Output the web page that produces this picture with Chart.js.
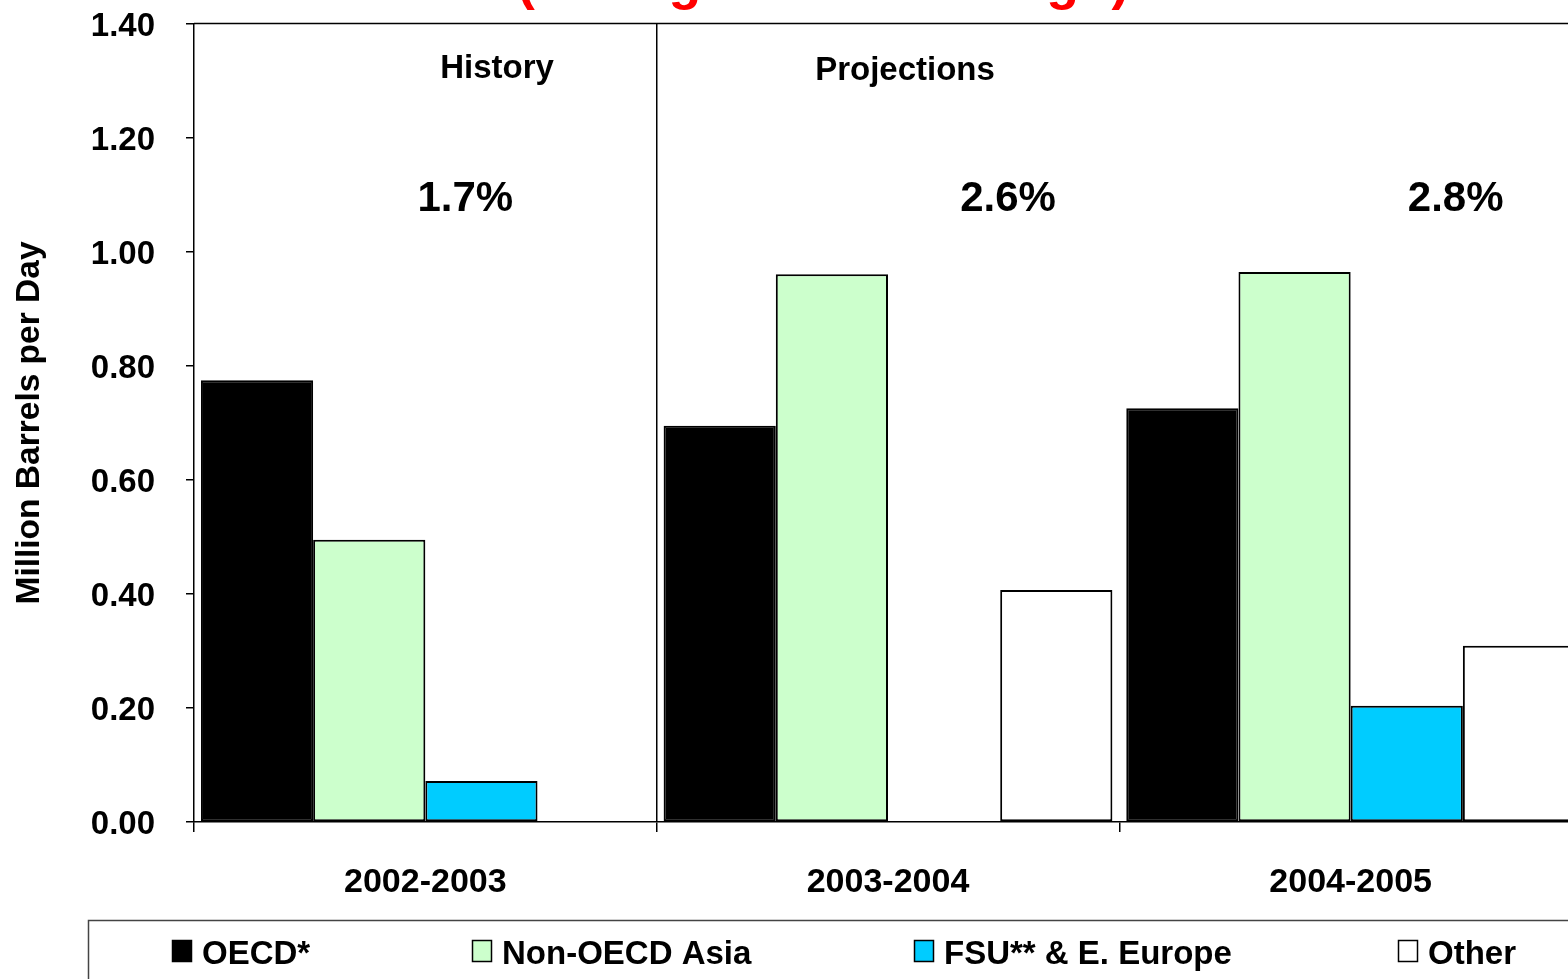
<!DOCTYPE html>
<html>
<head>
<meta charset="utf-8">
<script src="https://cdn.jsdelivr.net/npm/chart.js@4.4.0/dist/chart.umd.min.js"></script>
<style>
  html, body { margin: 0; padding: 0; overflow: hidden; background: #fff; }
  #wrap { width: 1600px; height: 979px; }
</style>
</head>
<body>
<div id="wrap"><canvas id="c" width="1600" height="979"></canvas></div>
<script>
// World oil demand growth by region, million barrels per day
const periods = ['2002-2003', '2003-2004', '2004-2005'];
const oecd = [0.775, 0.695, 0.726];
const nonOecdAsia = [0.495, 0.961, 0.965];
const fsuEurope = [0.072, null, 0.204];
const other = [null, 0.407, 0.309];
const growthRates = ['1.7%', '2.6%', '2.8%'];
const seriesNames = ['OECD*', 'Non-OECD Asia', 'FSU** & E. Europe', 'Other'];
const seriesColors = ['#000000', '#CCFFCC', '#00CCFF', '#FFFFFF'];
const sectionLabels = ['History', 'Projections'];
const titleText = '(Change from Year Ago)';
const yAxisTitle = 'Million Barrels per Day';

const FONT = '"Liberation Sans", Arial, Helvetica, sans-serif';
const bold = (px) => 'bold ' + px + 'px ' + FONT;

const decorations = {
  id: 'decorations',
  afterDraw(chart) {
    const { ctx, chartArea: a, scales } = chart;
    const x = scales.x, y = scales.y;
    ctx.save();

    // plot frame: top and right edges
    ctx.strokeStyle = '#000';
    ctx.lineWidth = 1.5;
    ctx.beginPath();
    ctx.moveTo(a.left, a.top - 0.5);
    ctx.lineTo(a.right, a.top - 0.5);
    ctx.lineTo(a.right, a.bottom);
    ctx.stroke();

    // red subtitle sitting above the frame
    ctx.fillStyle = '#FF0000';
    ctx.font = bold(53.5);
    ctx.textAlign = 'left';
    ctx.textBaseline = 'alphabetic';
    ctx.fillText(titleText, 517, -1);

    // section labels
    ctx.fillStyle = '#000';
    ctx.font = bold(33);
    ctx.textAlign = 'center';
    ctx.textBaseline = 'middle';
    ctx.fillText(sectionLabels[0], 497, 69);
    ctx.fillText(sectionLabels[1], 905, 71);

    // total growth rates per period
    ctx.font = bold(42);
    const shift = [40, 120, 105];
    growthRates.forEach((t, i) => {
      ctx.fillText(t, x.getPixelForValue(i) + shift[i], y.getPixelForValue(1.1) + 4);
    });

    // legend box
    const boxTop = 920.5, boxLeft = 88.5;
    ctx.strokeStyle = '#444';
    ctx.lineWidth = 1.5;
    ctx.beginPath();
    ctx.moveTo(chart.width + 5, boxTop);
    ctx.lineTo(boxLeft, boxTop);
    ctx.lineTo(boxLeft, chart.height + 5);
    ctx.stroke();

    const itemX = [172, 472, 914, 1398];
    ctx.font = bold(33);
    ctx.textAlign = 'left';
    ctx.textBaseline = 'alphabetic';
    chart.data.datasets.forEach((ds, i) => {
      ctx.fillStyle = ds.backgroundColor;
      ctx.fillRect(itemX[i], 940, 20, 22);
      ctx.strokeStyle = '#000';
      ctx.lineWidth = 1.5;
      ctx.strokeRect(itemX[i] + 0.5, 940.5, 19, 21);
      ctx.fillStyle = '#000';
      ctx.fillText(ds.label, itemX[i] + 30, 964);
    });

    ctx.restore();
  }
};

const seriesValues = [oecd, nonOecdAsia, fsuEurope, other];

new Chart(document.getElementById('c'), {
  type: 'bar',
  data: {
    labels: periods,
    datasets: seriesValues.map((vals, i) => ({
      label: seriesNames[i],
      data: vals,
      backgroundColor: seriesColors[i],
      borderColor: '#000',
      borderWidth: 2,
      borderSkipped: false,
      categoryPercentage: 0.97,
      barPercentage: 1.0
    }))
  },
  options: {
    responsive: false,
    animation: false,
    devicePixelRatio: 1,
    layout: { padding: { top: 24, right: 18, left: 0, bottom: 0 } },
    plugins: { legend: { display: false }, tooltip: { enabled: false } },
    scales: {
      x: {
        afterFit(s) { s.height = 157; s.paddingLeft = 0; s.paddingRight = 0; },
        grid: {
          offset: true,
          drawOnChartArea: true,
          color: (c) => (c.index === 1 ? '#000' : 'rgba(0,0,0,0)'),
          tickColor: '#000',
          tickLength: 10,
          lineWidth: 1.5
        },
        border: { display: true, color: '#000', width: 1.5 },
        ticks: { color: '#000', font: { family: FONT, size: 34, weight: 'bold' }, padding: 30, maxRotation: 0 }
      },
      y: {
        min: 0,
        max: 1.4,
        afterFit(s) { s.width = 194; s.paddingTop = 0; s.paddingBottom = 0; },
        grid: { drawOnChartArea: false, tickColor: '#000', tickLength: 8, lineWidth: 1.5 },
        border: { display: true, color: '#000', width: 1.5 },
        ticks: {
          stepSize: 0.2,
          color: '#000',
          padding: 31,
          labelOffset: 3,
          font: { family: FONT, size: 33, weight: 'bold' },
          callback: (v) => Number(v).toFixed(2)
        },
        title: {
          display: true,
          text: yAxisTitle,
          color: '#000',
          font: { family: FONT, size: 33.5, weight: 'bold' },
          padding: { top: 10, bottom: 0 }
        }
      }
    }
  },
  plugins: [decorations]
});
</script>
</body>
</html>
